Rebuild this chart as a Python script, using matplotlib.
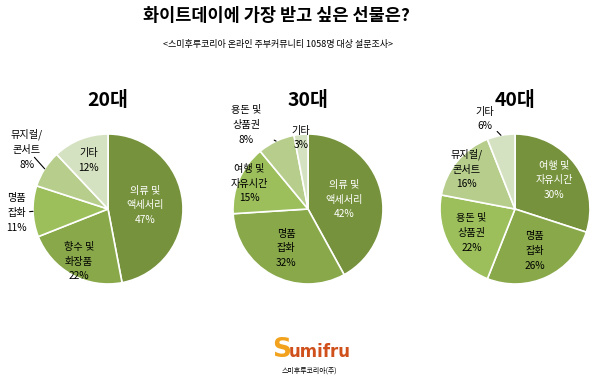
"""화이트데이 선물 설문 - 연령대별 파이 차트 3개."""
import matplotlib

matplotlib.use("Agg")
import matplotlib.pyplot as plt
import numpy as np

plt.rcParams["font.family"] = ["Noto Sans CJK KR", "DejaVu Sans"]

TITLE = "화이트데이에 가장 받고 싶은 선물은?"
SUBTITLE = "<스미후루코리아 온라인 주부커뮤니티 1058명 대상 설문조사>"

AGES = ["20대", "30대", "40대"]
LABELS = [
    ["의류 및\n액세서리", "향수 및\n화장품", "명품\n잡화", "뮤지컬/\n콘서트", "기타"],
    ["의류 및\n액세서리", "명품\n잡화", "여행 및\n자유시간", "용돈 및\n상품권", "기타"],
    ["여행 및\n자유시간", "명품\n잡화", "용돈 및\n상품권", "뮤지컬/\n콘서트", "기타"],
]
VALUES = [
    [47, 22, 11, 8, 12],
    [42, 32, 15, 8, 3],
    [30, 26, 22, 16, 6],
]

COLORS = ["#76923c", "#88a84a", "#9cbf5c", "#b6cd8c", "#d5e2c1"]

# label placement per slice: inside distance, or outside text position (pie radii)
PLACE = [
    [(0.5, None), (0.8, None), (None, (-1.22, -0.05)), (None, (-1.08, 0.8)), (0.7, None)],
    [(0.5, None), (0.6, None), (0.85, None), (None, (-0.82, 1.12)), (0.95, None)],
    [(0.65, None), (0.62, None), (0.66, None), (0.84, None), (None, (-0.4, 1.2))],
]

W, H = 600, 381
CENTERS_X = [108, 308, 515]
CENTER_Y = 209
RADIUS = 75

fig = plt.figure(figsize=(W / 100, H / 100), dpi=100)
fig.text(276 / W, 1 - 16 / H, TITLE, ha="center", va="center",
         fontsize=12.6, fontweight="bold")
fig.text(278 / W, 1 - 45 / H, SUBTITLE, ha="center", va="center", fontsize=6.5)

for i, age in enumerate(AGES):
    cx = CENTERS_X[i]
    ax = fig.add_axes([(cx - RADIUS) / W, (H - CENTER_Y - RADIUS) / H,
                       2 * RADIUS / W, 2 * RADIUS / H])
    wedges, _ = ax.pie(VALUES[i], colors=COLORS, startangle=90, counterclock=False,
                       wedgeprops=dict(edgecolor="white", linewidth=1.2))
    ax.set_xlim(-1, 1)
    ax.set_ylim(-1, 1)
    ax.set_aspect("equal")
    ax.axis("off")
    fig.text(cx / W, 1 - 100 / H, age, ha="center", va="center",
             fontsize=14, fontweight="bold")

    for k, (w, lab, v, (dist, outpos)) in enumerate(zip(wedges, LABELS[i], VALUES[i], PLACE[i])):
        ang = np.deg2rad((w.theta1 + w.theta2) / 2)
        txt = f"{lab}\n{v}%"
        if outpos is None:
            ax.text(dist * np.cos(ang), dist * np.sin(ang), txt,
                    ha="center", va="center", fontsize=7.3, linespacing=1.6,
                    color="white" if k == 0 else "black", clip_on=False)
        else:
            ax.annotate(txt, xy=(np.cos(ang), np.sin(ang)),
                        xytext=outpos, ha="center", va="center", fontsize=7.3,
                        linespacing=1.6, annotation_clip=False,
                        arrowprops=dict(arrowstyle="-", color="black", lw=0.8,
                                        shrinkA=8, shrinkB=0))

# logo
fig.text(272 / W, 1 - 357 / H, "S", ha="left", va="baseline", fontsize=19,
         fontweight="bold", color="#f2a21c", family="DejaVu Sans")
fig.text(289 / W, 1 - 357 / H, "umifru", ha="left", va="baseline", fontsize=12,
         fontweight="bold", color="#d0501c", family="DejaVu Sans")
fig.text(309 / W, 1 - 371 / H, "스미후루코리아(주)", ha="center", va="center", fontsize=5)

fig.savefig("out.png", dpi=100)
